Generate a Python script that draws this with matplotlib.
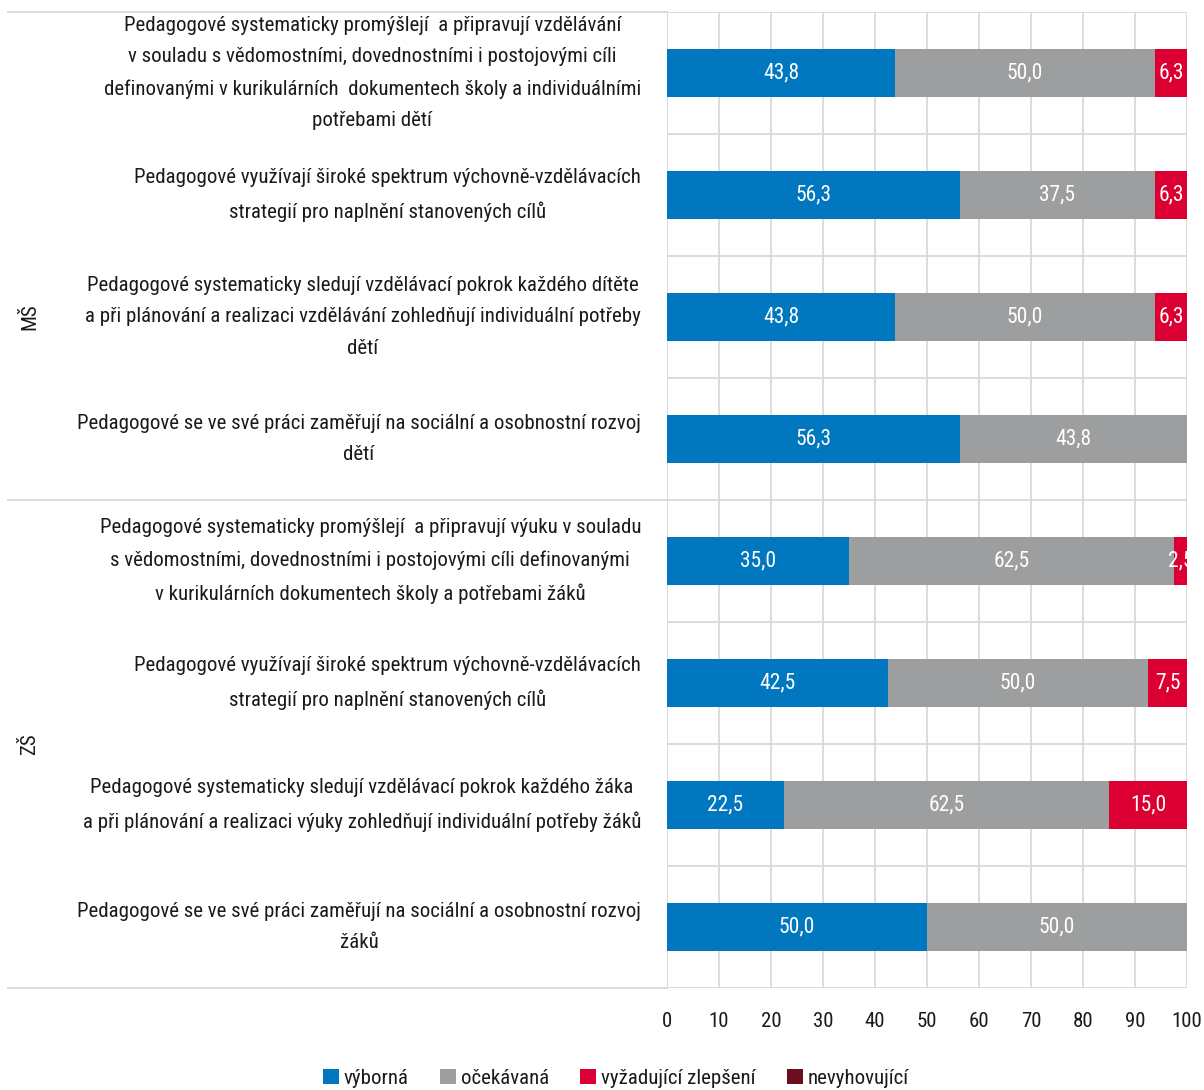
import matplotlib
matplotlib.use("Agg")
import matplotlib.pyplot as plt
from matplotlib import font_manager as fm
from matplotlib.patches import Patch
from matplotlib.lines import Line2D

# ---------------- data ----------------
categories = [
    "Pedagogové systematicky promýšlejí  a připravují vzdělávání\nv souladu s vědomostními, dovednostními i postojovými cíli\ndefinovanými v kurikulárních  dokumentech školy a individuálními\npotřebami dětí",
    "Pedagogové využívají široké spektrum výchovně-vzdělávacích\nstrategií pro naplnění stanovených cílů",
    "Pedagogové systematicky sledují vzdělávací pokrok každého dítěte\na při plánování a realizaci vzdělávání zohledňují individuální potřeby\ndětí",
    "Pedagogové se ve své práci zaměřují na sociální a osobnostní rozvoj\ndětí",
    "Pedagogové systematicky promýšlejí  a připravují výuku v souladu\ns vědomostními, dovednostními i postojovými cíli definovanými\nv kurikulárních dokumentech školy a potřebami žáků",
    "Pedagogové využívají široké spektrum výchovně-vzdělávacích\nstrategií pro naplnění stanovených cílů",
    "Pedagogové systematicky sledují vzdělávací pokrok každého žáka\na při plánování a realizaci výuky zohledňují individuální potřeby žáků",
    "Pedagogové se ve své práci zaměřují na sociální a osobnostní rozvoj\nžáků",
]
groups = ["MŠ", "ZŠ"]
group_sizes = [4, 4]
series_names = ["výborná", "očekávaná", "vyžadující zlepšení", "nevyhovující"]
vyborna = [43.8, 56.3, 43.8, 56.3, 35.0, 42.5, 22.5, 50.0]
ocekavana = [50.0, 37.5, 50.0, 43.8, 62.5, 50.0, 62.5, 50.0]
zlepseni = [6.3, 6.3, 6.3, 0.0, 2.5, 7.5, 15.0, 0.0]
nevyhovujici = [0.0, 0.0, 0.0, 0.0, 0.0, 0.0, 0.0, 0.0]
x_ticks = [0, 10, 20, 30, 40, 50, 60, 70, 80, 90, 100]

colors = ["#0077be", "#9d9ea0", "#dc0032", "#6b0f1e"]
grid_c = "#d9d9d9"
text_c = "#1a1a1a"

# ---------------- font ----------------
avail = {f.name for f in fm.fontManager.ttflist}
fam = None
for cand in ["Liberation Sans Narrow", "Roboto Condensed", "Open Sans Condensed", "Liberation Sans"]:
    if cand in avail:
        fam = cand
        break
if fam is None:
    fam = "DejaVu Sans"
plt.rcParams["font.family"] = [fam, "DejaVu Sans"]
FS = 15

W, H = 1204, 1090
fig = plt.figure(figsize=(W / 100, H / 100), dpi=100)
L, R, T, B = 667, 1187, 12, 988
ax = fig.add_axes([L / W, 1 - B / H, (R - L) / W, (B - T) / H])

n = len(categories)
ys = list(range(n))
series = [vyborna, ocekavana, zlepseni, nevyhovujici]
left = [0.0] * n
for s, c in zip(series, colors):
    ax.barh(ys, s, left=left, height=0.39, color=c, zorder=3)
    for i, v in enumerate(s):
        if v > 0:
            ax.text(left[i] + v / 2, i, f"{v:.1f}".replace(".", ","), ha="center", va="center",
                    color="white", fontsize=FS + 0.5, zorder=4)
    left = [a + b for a, b in zip(left, s)]

ax.set_xlim(0, 100)
ax.set_ylim(n - 0.5, -0.5)
ax.set_xticks(x_ticks)
ax.set_xticklabels([str(t) for t in x_ticks], fontsize=FS, color=text_c)
ax.tick_params(axis="x", length=0, pad=17)
ax.set_yticks([])
for sp in ax.spines.values():
    sp.set_visible(False)
ax.xaxis.grid(True, color=grid_c, linewidth=1.3, zorder=0)
ax.set_axisbelow(True)

# category separators inside plot
for k in range(n + 1):
    ax.axhline(k - 0.5, color=grid_c, linewidth=1.3, zorder=1)

# group separators extending to the left edge
bounds = [0]
for g in group_sizes:
    bounds.append(bounds[-1] + g)
for b in bounds:
    ypix = T + b * (B - T) / n
    fig.add_artist(Line2D([8 / W, L / W], [1 - ypix / H, 1 - ypix / H], color=grid_c, linewidth=1.3))

# category labels
for i, lab in enumerate(categories):
    ypix = T + (i + 0.5) * (B - T) / n
    fig.text(641 / W, 1 - ypix / H, lab, ha="right", va="center", multialignment="center",
             fontsize=FS, color=text_c, linespacing=1.83)

# group labels
group_y = [2.0, 5.5]
for g, gy in zip(groups, group_y):
    ypix = T + (gy + 0.5) * (B - T) / n
    fig.text(30 / W, 1 - ypix / H, g, rotation=90, ha="center", va="center", fontsize=FS, color=text_c)

handles = [Patch(facecolor=c, edgecolor="none") for c in colors]
fig.legend(handles, series_names, loc="center", bbox_to_anchor=(616 / W, 1 - 1078 / H), ncol=4,
           frameon=False, fontsize=FS, handlelength=0.75, handleheight=0.75, handletextpad=0.25,
           columnspacing=1.5, labelcolor=text_c)

fig.savefig("out.png", dpi=100)
